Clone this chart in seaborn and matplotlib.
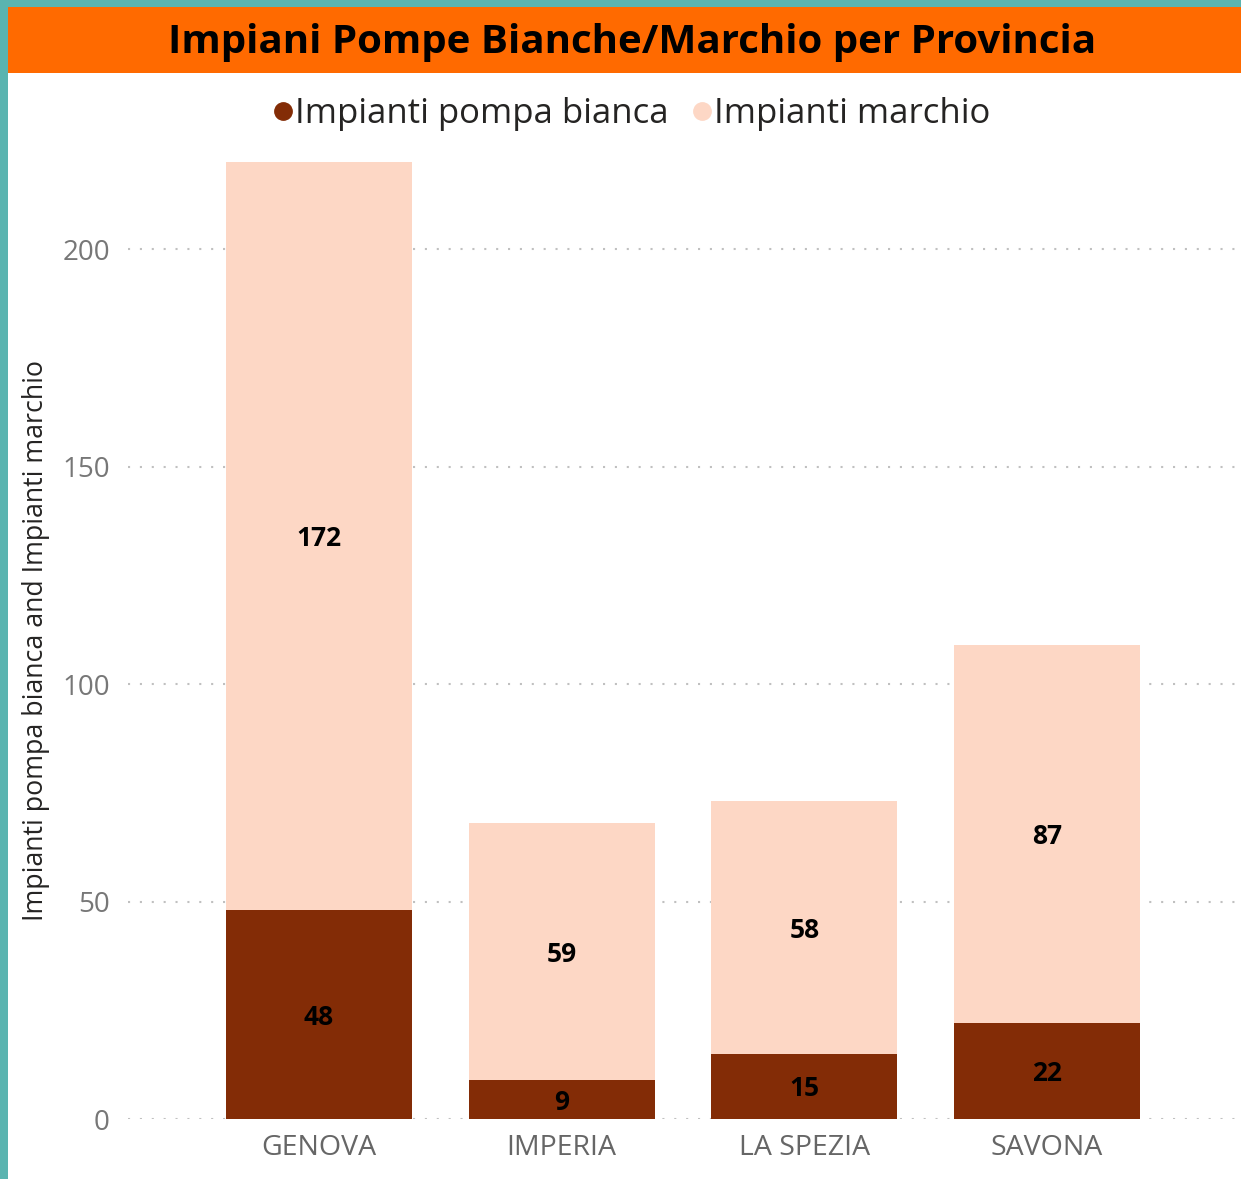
import matplotlib
matplotlib.use('Agg')
import matplotlib.pyplot as plt
import seaborn as sns
import pandas as pd
from matplotlib.lines import Line2D
from matplotlib.patches import Rectangle

# dati
province = ['GENOVA', 'IMPERIA', 'LA SPEZIA', 'SAVONA']
pompa_bianca = [48, 9, 15, 22]
marchio = [172, 59, 58, 87]
y_ticks = [0, 50, 100, 150, 200]

C_BIANCA = '#832C06'
C_MARCHIO = '#FDD7C5'
C_TITLE = '#FF6A00'
C_BORDER = '#5AB4B0'

sns.set_theme(style='white')
plt.rcParams['font.family'] = ['Open Sans', 'DejaVu Sans']

df = pd.DataFrame({'provincia': province, 'bianca': pompa_bianca, 'marchio': marchio})
df['totale'] = df['bianca'] + df['marchio']

W, H = 1241, 1179
fig = plt.figure(figsize=(W / 100, H / 100), dpi=100, facecolor=C_BORDER)

# sfondo bianco + barra titolo
fig.patches.append(Rectangle((8 / W, 0), 1, (H - 7) / H, transform=fig.transFigure,
                             facecolor='white', edgecolor='none', zorder=-2))
fig.patches.append(Rectangle((8 / W, (H - 73) / H), 1, 66 / H, transform=fig.transFigure,
                             facecolor=C_TITLE, edgecolor='none', zorder=-1))
fig.text(632 / W, (H - 43) / H, 'Impiani Pompe Bianche/Marchio per Provincia',
         ha='center', va='center', fontsize=29, fontweight='bold', color='black')

ymax = 225
px_per_unit = 4.35
top_px = 1119 - ymax * px_per_unit
ax_h = 1119 - top_px
ax = fig.add_axes([128 / W, 60 / H, 1112 / W, ax_h / H])
ax.set_facecolor('none')

bw = 0.767
sns.barplot(data=df, x='provincia', y='totale', color=C_MARCHIO, width=bw,
            saturation=1, linewidth=0, ax=ax, zorder=2)
sns.barplot(data=df, x='provincia', y='bianca', color=C_BIANCA, width=bw,
            saturation=1, linewidth=0, ax=ax, zorder=3)

ax.set_xlim(-0.787, 3.795)
ax.set_ylim(0, ymax)
ax.set_yticks(y_ticks)
ax.yaxis.grid(True, color='#C0C0C0', linestyle=(0, (1, 4.7)), linewidth=1.5, zorder=0)
ax.xaxis.grid(False)
for s in ax.spines.values():
    s.set_visible(False)
ax.tick_params(axis='both', length=0, labelsize=20, labelcolor='#777777')
ax.tick_params(axis='y', pad=13)
ax.tick_params(axis='x', pad=11, labelcolor='#666666', labelsize=20.5)
ax.set_xlabel('')
ax.set_ylabel('Impianti pompa bianca and Impianti marchio', fontsize=19.3, color='#252423')
ax.yaxis.set_label_coords((50 - 128) / 1112, (1119 - 640) / ax_h)

# etichette dei valori
off = -0.6
for i, row in df.iterrows():
    ax.text(i, row['bianca'] / 2 + off, str(row['bianca']), ha='center', va='center',
            fontsize=19, fontweight='bold', color='black', zorder=4)
    ax.text(i, row['bianca'] + row['marchio'] / 2 + off, str(row['marchio']), ha='center',
            va='center', fontsize=19, fontweight='bold', color='black', zorder=4)

handles = [Line2D([], [], marker='o', linestyle='', markersize=12.5, color=C_BIANCA),
           Line2D([], [], marker='o', linestyle='', markersize=12.5, color=C_MARCHIO)]
fig.legend(handles, ['Impianti pompa bianca', 'Impianti marchio'], loc='center',
           bbox_to_anchor=(628 / W, (H - 114) / H), ncol=2, frameon=False,
           fontsize=25, handletextpad=-0.15, columnspacing=0.45, handlelength=1.0,
           labelcolor='#252423')

fig.savefig('out.png', dpi=100, facecolor=fig.get_facecolor())
